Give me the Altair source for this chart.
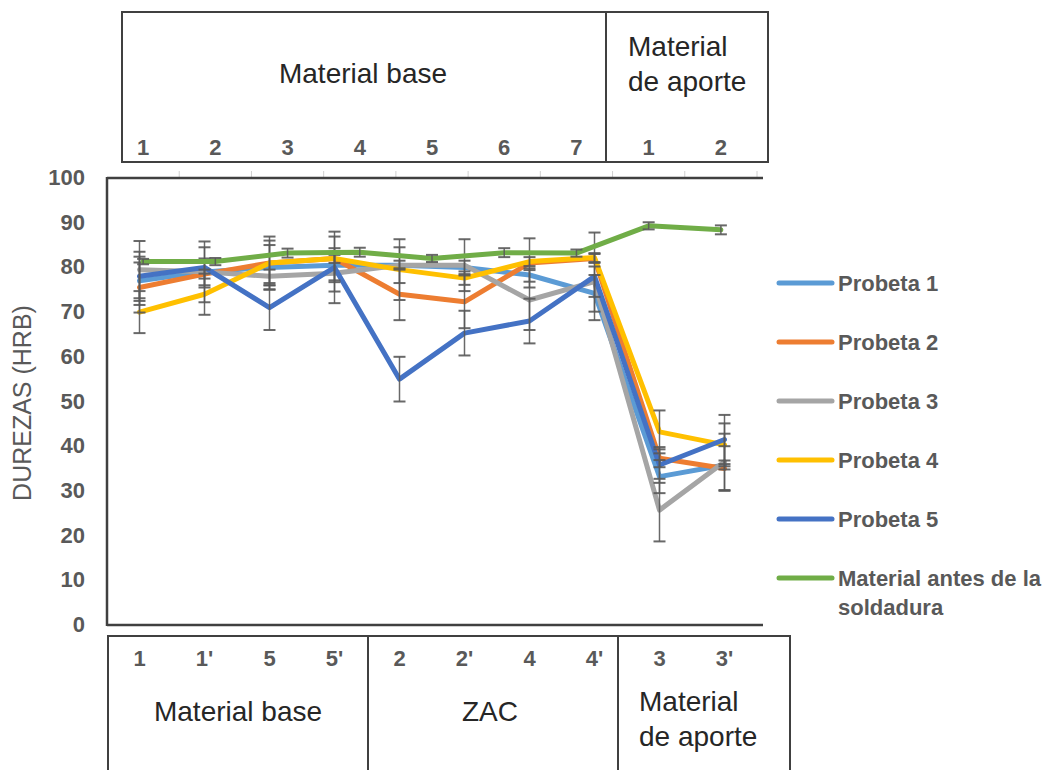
import altair as alt
import pandas as pd

# ---------------- data ----------------
cats_bottom = ["1", "1'", "5", "5'", "2", "2'", "4", "4'", "3", "3'"]
series = ["Probeta 1", "Probeta 2", "Probeta 3", "Probeta 4", "Probeta 5"]
p1 = [77.0, 79.0, 80.0, 80.5, 80.5, 80.0, 78.3, 74.2, 33.2, 35.8]
p2 = [75.5, 78.5, 81.0, 82.0, 74.0, 72.3, 81.0, 82.0, 37.3, 35.0]
p3 = [79.5, 79.0, 78.0, 78.7, 80.5, 80.5, 72.7, 76.8, 25.7, 36.5]
p4 = [70.0, 74.0, 81.0, 82.0, 79.5, 77.6, 81.3, 82.2, 43.2, 40.3]
p5 = [78.0, 80.0, 71.0, 80.0, 55.0, 65.3, 68.0, 78.0, 35.8, 41.5]
e1 = [5.4, 3.0, 5.0, 3.8, 1.0, 1.5, 1.5, 4.1, 3.7, 1.0]
e2 = [5.6, 1.0, 5.0, 1.0, 5.8, 5.9, 5.5, 1.0, 2.0, 5.0]
e3 = [6.4, 6.8, 1.5, 4.1, 4.0, 5.8, 6.7, 3.4, 7.0, 6.3]
e4 = [4.7, 4.6, 5.9, 4.9, 6.8, 1.5, 1.0, 1.0, 4.8, 4.8]
e5 = [5.5, 4.5, 5.0, 8.0, 5.0, 5.0, 5.0, 9.8, 4.0, 5.5]

green_name = "Material antes de la soldadura"
top_keys = ["MB1", "MB2", "MB3", "MB4", "MB5", "MB6", "MB7", "MA1", "MA2"]
top_labels = ["1", "2", "3", "4", "5", "6", "7", "1", "2"]
green = [81.3, 81.3, 83.2, 83.4, 82.0, 83.3, 83.2, 89.3, 88.4]
green_err = [0.6, 0.8, 1.0, 1.0, 0.8, 1.0, 0.8, 0.8, 1.0]

y_ticks = [0, 10, 20, 30, 40, 50, 60, 70, 80, 90, 100]
y_title = "DUREZAS  (HRB)"

colors = ["#5B9BD5", "#ED7D31", "#A5A5A5", "#FFC000", "#4472C4", "#70AD47"]

FONT = "Liberation Sans"
GRAY = "#595959"
DARK = "#404040"
TXT = "#262626"

# ---------------- tables ----------------
rows = []
for s, vals, errs in zip(series, [p1, p2, p3, p4, p5], [e1, e2, e3, e4, e5]):
    for c, v, e in zip(cats_bottom, vals, errs):
        rows.append({"cat": c, "serie": s, "valor": v, "lo": v - e, "hi": v + e})
df_b = pd.DataFrame(rows)
df_g = pd.DataFrame({
    "cat": top_keys, "label": top_labels, "serie": green_name, "valor": green,
    "lo": [v - e for v, e in zip(green, green_err)],
    "hi": [v + e for v, e in zip(green, green_err)],
})
df_bl = pd.DataFrame({"cat": cats_bottom})
df_one = pd.DataFrame({"k": [0]})
df_leg = pd.DataFrame({"serie": series + [green_name], "orden": list(range(6))})
df_y = pd.DataFrame({"v": y_ticks})

color_enc = alt.Color("serie:N", scale=alt.Scale(domain=series + [green_name], range=colors), legend=None)

yscale = alt.Scale(domain=[0, 100])
Y = lambda f: alt.Y(f, scale=yscale, axis=None)

bscale = alt.Scale(type="band", domain=cats_bottom, paddingInner=0, paddingOuter=0)
xb = alt.X("cat:N", scale=bscale, bandPosition=0.5, axis=None)
tscale = alt.Scale(type="band", domain=top_keys, paddingInner=0, paddingOuter=0)
xt = alt.X("cat:N", scale=tscale, bandPosition=0.5, axis=None)

ERR = dict(color=GRAY, opacity=0.9)
LW = 5

# ---------------- bottom-category group ----------------
lines_b = alt.Chart(df_b).mark_line(strokeWidth=LW, strokeJoin="round", strokeCap="round").encode(
    x=xb, y=Y("valor:Q"), color=color_enc)
rules_b = alt.Chart(df_b).mark_rule(strokeWidth=1.5, **ERR).encode(x=xb, y=Y("lo:Q"), y2="hi:Q")
caps_lo_b = alt.Chart(df_b).mark_tick(thickness=2, size=12, **ERR).encode(x=xb, y=Y("lo:Q"))
caps_hi_b = alt.Chart(df_b).mark_tick(thickness=2, size=12, **ERR).encode(x=xb, y=Y("hi:Q"))
nums_b = alt.Chart(df_bl).mark_text(font=FONT, fontSize=22, fontWeight="bold", color=GRAY).encode(
    x=xb, y=alt.value(481), text="cat:N")
bottom = alt.layer(lines_b, rules_b, caps_lo_b, caps_hi_b, nums_b)

# ---------------- top-category group (secondary axis) ----------------
top_ticks = alt.Chart(df_g).mark_rule(color="#D0D0D0", strokeWidth=1).encode(
    x=alt.X("cat:N", scale=tscale, bandPosition=1, axis=None), y=alt.value(-7), y2=alt.value(0))
line_g = alt.Chart(df_g).mark_line(strokeWidth=LW, strokeJoin="round", strokeCap="round").encode(
    x=xt, y=Y("valor:Q"), color=color_enc)
rules_g = alt.Chart(df_g).mark_rule(strokeWidth=1.5, **ERR).encode(x=xt, y=Y("lo:Q"), y2="hi:Q")
caps_lo_g = alt.Chart(df_g).mark_tick(thickness=2, size=12, **ERR).encode(x=xt, y=Y("lo:Q"))
caps_hi_g = alt.Chart(df_g).mark_tick(thickness=2, size=12, **ERR).encode(x=xt, y=Y("hi:Q"))
nums_t = alt.Chart(df_g).mark_text(font=FONT, fontSize=22, fontWeight="bold", color=GRAY).encode(
    x=xt, y=alt.value(-30), text="label:N")
top = alt.layer(top_ticks, line_g, rules_g, caps_lo_g, caps_hi_g, nums_t)

# ---------------- axes (drawn through the y scale) ----------------
def hline(y, x1, x2, w=2.5, color=DARK):
    return alt.Chart(df_one).mark_rule(color=color, strokeWidth=w).encode(
        y=alt.value(y), x=alt.value(x1), x2=alt.value(x2))

def vline(x, y1, y2, w=2, color=DARK):
    return alt.Chart(df_one).mark_rule(color=color, strokeWidth=w).encode(
        x=alt.value(x), y=alt.value(y1), y2=alt.value(y2))

y_labels = alt.Chart(df_y).mark_text(align="right", baseline="middle", font=FONT, fontSize=22,
                                     fontWeight="bold", color=GRAY).encode(
    x=alt.value(-22), y=Y("v:Q"), text="v:Q")
y_title_mark = alt.Chart(df_one).mark_text(angle=270, align="center", baseline="middle", font=FONT,
                                           fontSize=25, color=GRAY).encode(
    x=alt.value(-84), y=alt.value(225), text=alt.value(y_title))
axes = [vline(0, -1, 448, w=2.5), hline(0, 0, 656), hline(447, 0, 656), y_labels, y_title_mark]

# ---------------- boxes & group titles ----------------
def box(x1, x2, y1, y2):
    return alt.Chart(df_one).mark_rect(fillOpacity=0, stroke=DARK, strokeWidth=2).encode(
        x=alt.value(x1), x2=alt.value(x2), y=alt.value(y1), y2=alt.value(y2))

def label(txt, x, y, align="center", baseline="middle"):
    return alt.Chart(df_one).mark_text(font=FONT, fontSize=28, color=TXT, align=align,
                                       baseline=baseline, lineBreak="\n", lineHeight=35).encode(
        x=alt.value(x), y=alt.value(y), text=alt.value(txt))

decor = [
    box(15, 661, -166, -16), vline(499, -166, -16),
    label("Material base", 256, -103),
    label("Material\nde aporte", 521, -122, align="left", baseline="alphabetic"),
    box(1, 683, 458, 640), vline(261, 458, 640), vline(511, 458, 640),
    label("Material base", 131, 535),
    label("ZAC", 383, 535),
    label("Material\nde aporte", 532, 533, align="left", baseline="alphabetic"),
]

# ---------------- legend (manual, positioned through the y scale) ----------------
leg_base = alt.Chart(df_leg).transform_calculate(
    ypos="76.51 - 13.2 * datum.orden",
    ytxt="74.72 - 13.2 * datum.orden",
    etiqueta="datum.serie == 'Material antes de la soldadura' ? 'Material antes de la\\nsoldadura' : datum.serie",
)
leg_sym = leg_base.mark_rule(strokeWidth=LW, strokeCap="round").encode(
    x=alt.value(672), x2=alt.value(725), y=Y("ypos:Q"), color=color_enc)
leg_txt = leg_base.mark_text(align="left", baseline="alphabetic", font=FONT, fontSize=22,
                             fontWeight="bold", color=GRAY, lineBreak="\n", lineHeight=29).encode(
    x=alt.value(731), y=Y("ytxt:Q"), text="etiqueta:N")

chart = alt.layer(bottom, top, *axes, *decor, leg_sym, leg_txt).resolve_scale(x="independent").properties(
    width=650, height=447,
    padding={"left": 99, "top": 170, "right": 299, "bottom": 145},
    autosize=alt.AutoSizeParams(type="none"),
).configure(font=FONT).configure_view(strokeWidth=0)

chart.save("out.html", embed_options={"renderer": "svg", "actions": False})
